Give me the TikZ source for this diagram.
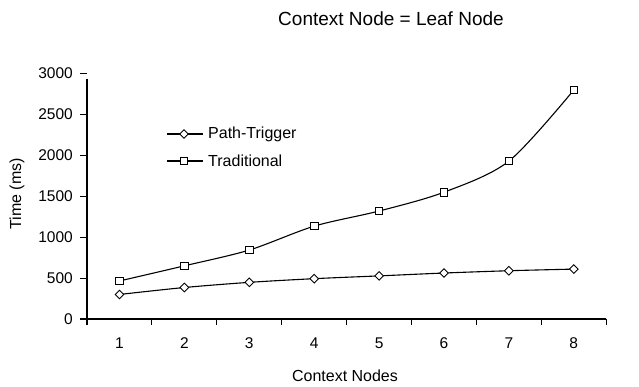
\documentclass[tikz,border=0pt]{standalone}
\usepackage{fontspec}
\setmainfont{Liberation Sans}
\usetikzlibrary{shapes.geometric}
\tikzset{
  axisline/.style={line width=1.4pt},
  tickline/.style={line width=1.1pt},
  series/.style={line width=1.1pt},
  diamondmark/.style={diamond, draw, fill=white, line width=0.9pt, minimum size=9pt, inner sep=0pt},
  squaremark/.style={rectangle, draw, fill=white, line width=0.9pt, minimum size=7.5pt, inner sep=0pt},
  ticklabel/.style={font=\fontsize{15.5}{18}\selectfont, inner sep=0pt},
  axislabel/.style={font=\fontsize{16}{19}\selectfont, inner sep=0pt},
}
\begin{document}
\begin{tikzpicture}[x=1pt, y=-1pt]
\useasboundingbox (0,0) rectangle (639,387);
\fill[white] (0,0) rectangle (639,387);

% title
\node[font=\fontsize{19}{22}\selectfont, inner sep=0pt] (title) at (391,19) {Context Node = Leaf Node};

% axes
\coordinate (origin) at (87,319);
\coordinate (ytop) at (87,79);
\coordinate (xend) at (606,319);
\draw[axisline] (ytop) -- (origin) -- (xend);

% y ticks and labels
\foreach \v in {0,500,...,3000} {
  \draw[tickline] (80,{319-0.0818*\v}) -- (87,{319-0.0818*\v});
  \node[ticklabel, anchor=east] (yl\v) at (73,{319-0.0818*\v}) {\v};
}
% x ticks and labels
\foreach \k in {0,...,8} {
  \draw[tickline] ({87+64.9*\k},319) -- ({87+64.9*\k},325);
}
\foreach \i in {1,...,8} {
  \node[ticklabel] (xl\i) at ({119.5+64.9*(\i-1)},343) {\i};
}

\node[axislabel] (xtitle) at (345,376) {Context Nodes};
\node[axislabel, rotate=90] (ytitle) at (17,194) {Time (ms)};

% data points
\foreach \i/\v in {1/300,2/385,3/448,4/493,5/527,6/562,7/590,8/610} {
  \coordinate (p\i) at ({119.5+64.9*(\i-1)},{319-0.0818*\v});
}
\foreach \i/\v in {1/465,2/650,3/843,4/1135,5/1320,6/1550,7/1930,8/2800} {
  \coordinate (t\i) at ({119.5+64.9*(\i-1)},{319-0.0818*\v});
}

% smoothed series
\draw[series] plot[smooth, tension=0.5] coordinates {(p1) (p2) (p3) (p4) (p5) (p6) (p7) (p8)};
\draw[series] plot[smooth, tension=0.5] coordinates {(t1) (t2) (t3) (t4) (t5) (t6) (t7) (t8)};
\foreach \i in {1,...,8} {
  \node[diamondmark] (pm\i) at (p\i) {};
  \node[squaremark] (tm\i) at (t\i) {};
}

% legend
\coordinate (la1) at (167,134);
\coordinate (lb1) at (203,134);
\coordinate (la2) at (167,161);
\coordinate (lb2) at (203,161);
\draw[series] (la1) -- (lb1);
\draw[series] (la2) -- (lb2);
\node[diamondmark] (lgm1) at (184,134) {};
\node[squaremark] (lgm2) at (184,161) {};
\node[axislabel, anchor=west] (lgt1) at (208,134) {Path-Trigger};
\node[axislabel, anchor=west] (lgt2) at (208,161) {Traditional};
\end{tikzpicture}
\end{document}
